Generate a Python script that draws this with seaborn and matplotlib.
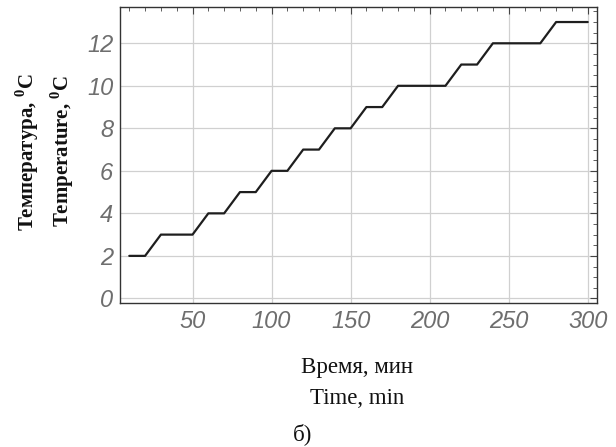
import matplotlib
matplotlib.use("Agg")
import matplotlib.pyplot as plt
import pandas as pd
import seaborn as sns
from matplotlib.ticker import MultipleLocator

# temperature steps, one sample every 10 min
time_min = [10, 20, 30, 40, 50, 60, 70, 80, 90, 100,
            110, 120, 130, 140, 150, 160, 170, 180, 190, 200,
            210, 220, 230, 240, 250, 260, 270, 280, 290, 300]
temp_c = [2, 2, 3, 3, 3, 4, 4, 5, 5, 6,
          6, 7, 7, 8, 8, 9, 9, 10, 10, 10,
          10, 11, 11, 12, 12, 12, 12, 13, 13, 13]
x_ticks = [50, 100, 150, 200, 250, 300]
y_ticks = [0, 2, 4, 6, 8, 10, 12]

sns.set_style("white")
plt.rcParams["mathtext.fontset"] = "custom"
plt.rcParams["mathtext.rm"] = "Liberation Serif"
plt.rcParams["mathtext.bf"] = "Liberation Serif:bold"

df = pd.DataFrame({"t": time_min, "T": temp_c})

fig = plt.figure(figsize=(6.16, 4.47), dpi=100)
ax = fig.add_axes([0.195, 0.322, 0.774, 0.662])

sns.lineplot(data=df, x="t", y="T", ax=ax, color="#1e1e1e", linewidth=1.6)

ax.set_xlim(4.2, 305.8)
ax.set_ylim(-0.22, 13.7)
ax.set_xticks(x_ticks)
ax.set_yticks(y_ticks)
ax.xaxis.set_minor_locator(MultipleLocator(10))
ax.yaxis.set_minor_locator(MultipleLocator(0.5))
ax.grid(True, which="major", color="#d0d0d0", linewidth=0.9)

ax.tick_params(which="both", direction="in", top=True, right=True, colors="#444444",
               labelcolor="#6e6e6e")
ax.tick_params(which="major", length=5, width=0.8, pad=5)
ax.tick_params(which="minor", length=3, width=0.6)
for lab in ax.get_xticklabels() + ax.get_yticklabels():
    lab.set_fontfamily("Liberation Sans")
    lab.set_fontsize(17)
    lab.set_fontstyle("italic")

for sp in ax.spines.values():
    sp.set_color("#333333")
    sp.set_linewidth(1.0)

ax.set_xlabel("")
ax.set_ylabel("")

serif = dict(family="Liberation Serif", size=16.5, color="#111111", ha="center", va="center")
fig.text(357 / 616, 1 - 367 / 447, "Время, мин", **serif)
fig.text(357 / 616, 1 - 398 / 447, "Time, min", **serif)
fig.text(303 / 616, 1 - 434 / 447, "б)", **serif)

ylab = dict(serif, size=15, weight="bold", rotation=90)
fig.text(27 / 616, 1 - 152 / 447, r"Температура, $^{\mathbf{0}}$C", **ylab)
fig.text(62 / 616, 1 - 151 / 447, r"Temperature, $^{\mathbf{0}}$C", **ylab)

fig.savefig("out.png", dpi=100)
